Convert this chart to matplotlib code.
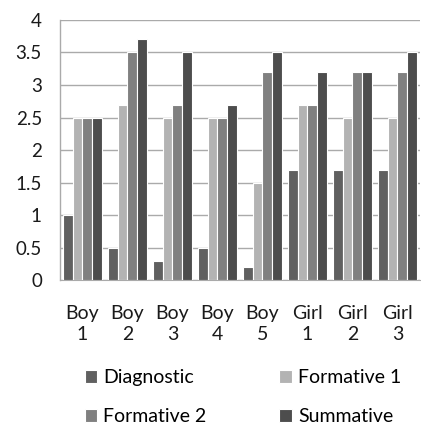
import matplotlib.pyplot as plt
import numpy as np

# data
students = ['Boy\n1', 'Boy\n2', 'Boy\n3', 'Boy\n4', 'Boy\n5', 'Girl\n1', 'Girl\n2', 'Girl\n3']
diagnostic = [1.0, 0.5, 0.3, 0.5, 0.2, 1.7, 1.7, 1.7]
formative1 = [2.5, 2.7, 2.5, 2.5, 1.5, 2.7, 2.5, 2.5]
formative2 = [2.5, 3.5, 2.7, 2.5, 3.2, 2.7, 3.2, 3.2]
summative = [2.5, 3.7, 3.5, 2.7, 3.5, 3.2, 3.2, 3.5]
series_names = ['Diagnostic', 'Formative 1', 'Formative 2', 'Summative']
colors = ['#606060', '#b3b3b3', '#808080', '#4d4d4d']

plt.rcParams['font.family'] = ['Lato', 'DejaVu Sans']

fig = plt.figure(figsize=(4.21, 4.25), dpi=100)
ax = fig.add_axes([0.1425, 0.341, 0.855, 0.612])

x = np.arange(len(students))
w = 0.22
bars = []
for i, (vals, c, name) in enumerate(zip([diagnostic, formative1, formative2, summative], colors, series_names)):
    b = ax.bar(x + (i - 1.5) * w, vals, width=w, color=c, edgecolor='white', linewidth=0.8, label=name, zorder=3)
    bars.append(b)

ax.set_xlim(-0.5, len(students) - 0.5)
ax.set_ylim(0, 4)
ax.set_yticks(np.arange(0, 4.01, 0.5))
ax.set_yticklabels(['0', '0.5', '1', '1.5', '2', '2.5', '3', '3.5', '4'])
ax.set_xticks(x)
ax.set_xticklabels(students, fontsize=14, linespacing=1.25)
ax.grid(axis='y', color='#aaaaaa', linewidth=1.0, zorder=0)
for s in ['top', 'right']:
    ax.spines[s].set_visible(False)
ax.spines['left'].set_color('#aaaaaa')
ax.spines['bottom'].set_color('#aaaaaa')
ax.tick_params(axis='both', length=0, colors='#1a1a1a')
ax.tick_params(axis='y', pad=13, labelsize=13.5)
ax.tick_params(axis='x', pad=18)
ax.spines['left'].set_linewidth(1.0)

handles = [bars[0], bars[2], bars[1], bars[3]]
labels = [series_names[0], series_names[2], series_names[1], series_names[3]]
fig.legend(handles, labels, ncol=2, loc='lower left', bbox_to_anchor=(0.16, -0.042),
           frameon=False, fontsize=14, handlelength=0.65, handleheight=0.65,
           handletextpad=0.3, columnspacing=3.75, labelspacing=1.15)

fig.savefig('out.png', dpi=100)
